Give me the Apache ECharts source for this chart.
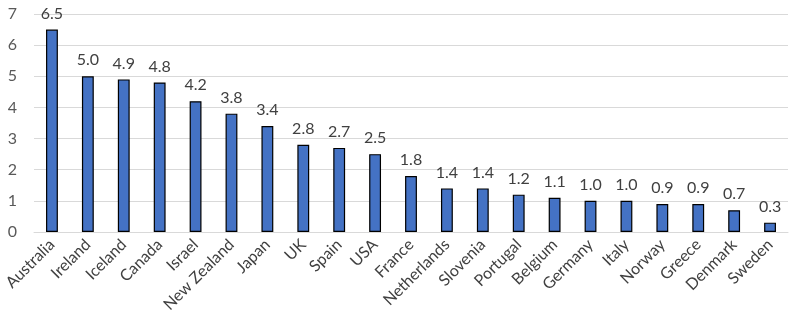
<!DOCTYPE html>
<html>
<head>
<meta charset="utf-8">
<script src="https://cdn.jsdelivr.net/npm/echarts@6/dist/echarts.min.js"></script>
<style>
  html, body { margin: 0; padding: 0; background: #fff; }
  #chart { width: 796px; height: 324px; }
</style>
</head>
<body>
<div id="chart"></div>
<script>
// Countries, sorted by value
const countries = ['Australia', 'Ireland', 'Iceland', 'Canada', 'Israel', 'New Zealand', 'Japan', 'UK', 'Spain', 'USA',
  'France', 'Netherlands', 'Slovenia', 'Portugal', 'Belgium', 'Germany', 'Italy', 'Norway', 'Greece', 'Denmark', 'Sweden'];
const values = [6.5, 5.0, 4.9, 4.8, 4.2, 3.8, 3.4, 2.8, 2.7, 2.5,
  1.8, 1.4, 1.4, 1.2, 1.1, 1.0, 1.0, 0.9, 0.9, 0.7, 0.3];
const yTicks = [0, 1, 2, 3, 4, 5, 6, 7];

const chart = echarts.init(document.getElementById('chart'));
const font = 'Lato, "Open Sans", sans-serif';

chart.setOption({
  animation: false,
  grid: { left: 34, right: 8, top: 14, bottom: 92 },
  xAxis: {
    type: 'category',
    data: countries,
    axisLine: { show: true, lineStyle: { color: '#d9d9d9', width: 1 } },
    axisTick: { show: false },
    axisLabel: {
      interval: 0,
      rotate: 45,
      color: '#404040',
      fontFamily: font,
      fontSize: 16,
      margin: 10
    }
  },
  yAxis: {
    type: 'value',
    min: yTicks[0],
    max: yTicks[yTicks.length - 1],
    interval: 1,
    axisLine: { show: false },
    axisTick: { show: false },
    splitLine: { lineStyle: { color: '#d9d9d9', width: 1 } },
    axisLabel: {
      color: '#595959',
      fontFamily: font,
      fontSize: 16,
      margin: 17
    }
  },
  series: [{
    type: 'bar',
    data: values,
    barWidth: '33%',
    itemStyle: { color: '#4472C4', borderColor: '#000', borderWidth: 1.2 },
    label: {
      show: true,
      position: 'top',
      distance: 8,
      color: '#404040',
      fontFamily: font,
      fontSize: 16,
      formatter: p => p.value.toFixed(1)
    }
  }]
});
</script>
</body>
</html>
